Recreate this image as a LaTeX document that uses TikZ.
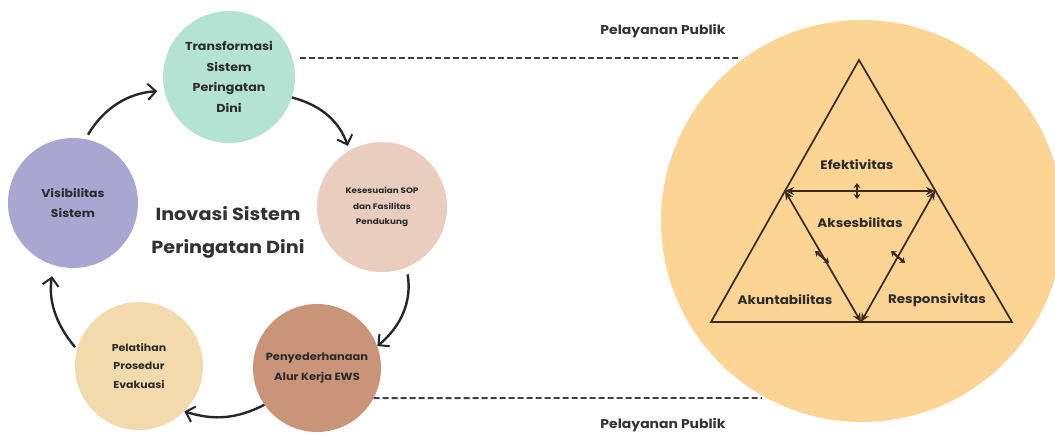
\documentclass[tikz,border=0pt]{standalone}
\usepackage{fontspec}
\setmainfont{Poppins}[FakeStretch=1.1]
\usetikzlibrary{arrows.meta}
\definecolor{cteal}{HTML}{B4E3D3}
\definecolor{cpurple}{HTML}{AAA6D2}
\definecolor{cpink}{HTML}{E9CDBE}
\definecolor{cbrown}{HTML}{C99478}
\definecolor{ccream}{HTML}{F3DAAC}
\definecolor{corange}{HTML}{FCD595}
\definecolor{ctext}{HTML}{2B2B2B}
\definecolor{cline}{HTML}{3A2A1A}
\tikzset{
  circ/.style={circle, minimum size=#1, inner sep=0pt, align=center, text=ctext, font=\bfseries},
  cyc/.style={line width=2.4pt, draw=black!85, -{Straight Barb[length=8pt,width=16pt,line width=2pt]}},
  dash line/.style={draw=black!75, line width=1.8pt, dash pattern=on 6pt off 3pt},
  tri/.style={draw=cline, line width=1.7pt, line join=miter},
  inner edge/.style={draw=cline, line width=1.7pt, {Stealth[length=9pt,width=8pt]}-{Stealth[length=9pt,width=8pt]}},
  midmark/.style={draw=cline, line width=2.2pt, {Stealth[length=5pt,width=7pt]}-{Stealth[length=5pt,width=7pt]}},
  lbl/.style={font=\bfseries\fontsize{12.3}{15}\selectfont, text=ctext},
}
\begin{document}
\begin{tikzpicture}[x=1pt,y=1pt]
\useasboundingbox (0,0) rectangle (1055,-437);
\fill[white] (0,0) rectangle (1055,-437);
\begin{scope}
\clip (0,0) rectangle (1055,-437);
\node[circle, fill=corange, minimum size=402pt, inner sep=0pt] (big) at (862,-221) {};
\end{scope}
% cycle circles
\node[circ=132pt, fill=cteal, font=\bfseries\fontsize{11.5}{20.5}\selectfont] (t) at (229,-77) {Transformasi\\Sistem\\Peringatan\\Dini};
\node[circ=130pt, fill=cpurple, font=\bfseries\fontsize{11.3}{20}\selectfont] (v) at (73,-203) {Visibilitas\\Sistem};
\node[circ=130pt, fill=cpink, font=\bfseries\fontsize{8}{15.5}\selectfont] (k) at (382,-207) {Kesesuaian SOP\\dan Fasilitas\\Pendukung};
\node[circ=128pt, fill=cbrown, font=\bfseries\fontsize{10.4}{19.5}\selectfont] (p) at (317,-368) {Penyederhanaan\\Alur Kerja EWS};
\node[circ=128pt, fill=ccream, font=\bfseries\fontsize{10}{18.5}\selectfont] (l) at (139,-366) {Pelatihan\\Prosedur\\Evakuasi};
\node[align=center, text=black!80, font=\bfseries\fontsize{17.5}{33}\selectfont] (title) at (228,-232) {Inovasi Sistem\\Peringatan Dini};
% cycle arrows
\draw[cyc, shorten <=5pt, shorten >=7pt] (v.79) to[bend left=28] (t.192);
\draw[cyc, shorten >=5pt] (t.-18) to[bend left=28] (k.120);
\draw[cyc, shorten <=7pt] (k.-68) to[bend left=30] (p.20);
\draw[cyc] (p.215) to[bend left=22] (l.-45);
\draw[cyc, shorten <=3pt, shorten >=11pt] (l.165) to[bend left=25] (v.253);
% dashed connectors
\coordinate (d1s) at (300,-58);
\coordinate (d1e) at (738,-58);
\coordinate (d2e) at (762,-398);
\draw[dash line] (d1s) -- (d1e);
\draw[dash line] (p.-28) -- (d2e);
\node[font=\bfseries\fontsize{12.7}{15}\selectfont, text=black!80] (pp1) at (663,-31) {Pelayanan Publik};
\node[font=\bfseries\fontsize{12.7}{15}\selectfont, text=black!80] (pp2) at (663,-425) {Pelayanan Publik};
% triangle
\coordinate (A) at (859,-60);
\coordinate (B) at (711,-322);
\coordinate (C) at (1012,-322);
\coordinate (L) at (785,-191);
\coordinate (R) at (935,-191);
\coordinate (M) at (861,-322);
\draw[tri] (A) -- (B) -- (C) -- cycle;
\draw[inner edge] (L) -- (R);
\draw[inner edge] (L) -- (M);
\draw[inner edge] (R) -- (M);
\draw[midmark] (857,-183) -- (857,-199);
\draw[midmark] (815,-251) -- (829,-263);
\draw[midmark] (891,-251) -- (905,-263);
\node[lbl] (ef) at (857,-165) {Efektivitas};
\node[lbl] (ak) at (860,-223) {Aksesbilitas};
\node[lbl] (akt) at (785,-300) {Akuntabilitas};
\node[lbl] (res) at (937,-300) {Responsivitas};
\end{tikzpicture}
\end{document}
